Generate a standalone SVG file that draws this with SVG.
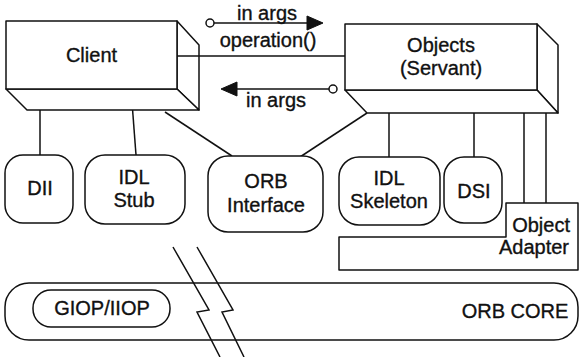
<svg xmlns="http://www.w3.org/2000/svg" width="580" height="357" viewBox="0 0 580 357">
  <style>
    .box { fill: #ffffff; stroke: #111111; stroke-width: 1.5; stroke-linejoin: round; }
    .face { fill: #ffffff; stroke: #111111; stroke-width: 1.5; stroke-linejoin: round; }
    .line { fill: none; stroke: #111111; stroke-width: 1.5; }
    .head { fill: #111111; stroke: #111111; stroke-width: 1; }
    .dot { fill: #ffffff; stroke: #111111; stroke-width: 1.5; }
    .lbl { font-family: "Liberation Sans", Arial, sans-serif; font-size: 20px; fill: #111111; stroke: #111111; stroke-width: 0.35; text-anchor: middle; }
  </style>
  <rect width="580" height="357" fill="#ffffff"/>

  <!-- connectors between components -->
  <g id="connectors">
    <!-- Client to its stubs and ORB interface -->
    <line class="line" x1="40" y1="89" x2="40" y2="155"/>
    <line class="line" x1="131" y1="89" x2="136" y2="155"/>
    <line class="line" x1="165" y1="112" x2="232" y2="156"/>
    <!-- Client to Objects request path -->
    <line class="line" x1="177" y1="56" x2="345" y2="56"/>
    <!-- Objects to skeleton, DSI, ORB interface and adapter -->
    <line class="line" x1="367" y1="113" x2="300" y2="157"/>
    <line class="line" x1="389" y1="90" x2="389" y2="157"/>
    <line class="line" x1="474" y1="90" x2="474" y2="157"/>
    <line class="line" x1="524" y1="113" x2="524" y2="203"/>
    <line class="line" x1="546" y1="113" x2="546" y2="203"/>

    <!-- in args: outgoing -->
    <line class="line" x1="214" y1="23" x2="309" y2="23"/>
    <circle class="dot" cx="210" cy="23" r="4"/>
    <polygon class="head" points="307,16 323,23 307,30"/>
    <!-- in args: returning -->
    <line class="line" x1="235" y1="89" x2="329" y2="89"/>
    <circle class="dot" cx="333" cy="89" r="4"/>
    <polygon class="head" points="237,82 221,89 237,96"/>
  </g>

  <g id="label-in-args-out">
    <text class="lbl" x="267" y="20">in args</text>
  </g>
  <g id="label-operation">
    <text class="lbl" x="268" y="47">operation()</text>
  </g>
  <g id="label-in-args-back">
    <text class="lbl" x="276" y="107">in args</text>
  </g>

  <!-- Client block (extruded box) -->
  <g id="client">
    <polygon class="face" points="177,21 199,45 199,110 177,89"/>
    <polygon class="face" points="6,89 177,89 199,110 27,110"/>
    <rect class="box" x="6" y="21" width="171" height="68"/>
    <line class="line" x1="177" y1="56" x2="199" y2="56"/>
    <text class="lbl" x="91.5" y="62">Client</text>
  </g>

  <!-- Objects (Servant) block (extruded box) -->
  <g id="objects">
    <polygon class="face" points="537,24 558,45 558,113 537,90"/>
    <polygon class="face" points="345,90 537,90 558,113 367,113"/>
    <rect class="box" x="345" y="24" width="192" height="66"/>
    <text class="lbl" x="441" y="52">Objects</text>
    <text class="lbl" x="441" y="75">(Servant)</text>
  </g>

  <g id="dii">
    <rect class="box" x="5" y="155" width="68" height="68" rx="18"/>
    <text class="lbl" x="40" y="195">DII</text>
  </g>

  <g id="idl-stub">
    <rect class="box" x="85" y="155" width="100" height="69" rx="20"/>
    <text class="lbl" x="134" y="184">IDL</text>
    <text class="lbl" x="134" y="207">Stub</text>
  </g>

  <g id="orb-interface">
    <rect class="box" x="208" y="156" width="115" height="76" rx="20"/>
    <text class="lbl" x="266" y="188">ORB</text>
    <text class="lbl" x="266" y="212">Interface</text>
  </g>

  <g id="idl-skeleton">
    <rect class="box" x="339" y="157" width="101" height="68" rx="20"/>
    <text class="lbl" x="389" y="185">IDL</text>
    <text class="lbl" x="389" y="208">Skeleton</text>
  </g>

  <g id="dsi">
    <rect class="box" x="444" y="157" width="58" height="66" rx="20"/>
    <text class="lbl" x="474" y="198">DSI</text>
  </g>

  <g id="object-adapter">
    <polygon class="box" points="339,237 506,237 506,203 578,203 578,270 339,270"/>
    <text class="lbl" x="570" y="232" style="text-anchor:end">Object</text>
    <text class="lbl" x="569" y="254" style="text-anchor:end">Adapter</text>
  </g>

  <g id="orb-core">
    <rect class="box" x="5" y="283" width="573" height="57" rx="24"/>
    <text class="lbl" x="515" y="318">ORB CORE</text>
  </g>

  <g id="giop-iiop">
    <rect class="box" x="33" y="290" width="137" height="37" rx="18"/>
    <text class="lbl" x="102" y="315">GIOP/IIOP</text>
  </g>

  <!-- network break marks -->
  <g id="network-break">
    <polyline class="line" points="173,247 209,310 197,312 220,357"/>
    <polyline class="line" points="197,247 233,310 222,312 244,357"/>
  </g>
</svg>
